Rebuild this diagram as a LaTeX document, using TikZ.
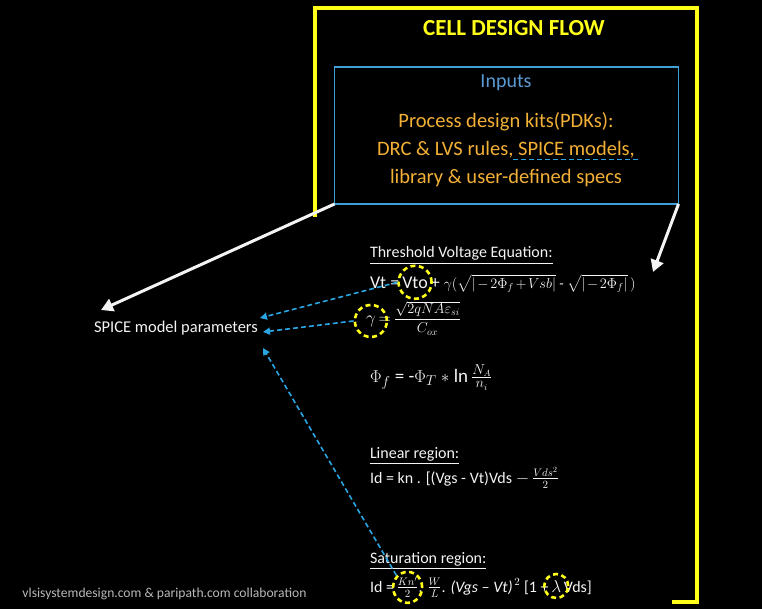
\documentclass[tikz,border=0pt]{standalone}
\usepackage{amsmath}
\usepackage{fontspec}
\setmainfont{Carlito}
\usetikzlibrary{arrows.meta,shapes.geometric}
\definecolor{frameyellow}{HTML}{FFFF1A}
\definecolor{boxblue}{HTML}{3FA0D8}
\definecolor{inputsblue}{HTML}{5B9BD5}
\definecolor{pdkorange}{HTML}{F2B036}
\definecolor{dashblue}{HTML}{2AA5E2}
\definecolor{txtwhite}{HTML}{F4F4F4}
\definecolor{footgray}{HTML}{B8B8B8}
\newcommand{\fs}[1]{\fontsize{#1}{#1}\selectfont}
\medmuskip=2mu plus 1mu minus 1mu
\thickmuskip=3mu plus 1mu
\tikzset{
  txt/.style={text=txtwhite, inner sep=0pt, outer sep=0pt},
  eqn/.style={txt, anchor=base west},
  ycirc/.style={draw=frameyellow, circle, line width=2.6pt, dash pattern=on 5pt off 3.5pt, inner sep=0pt},
  whitearrow/.style={draw=txtwhite, line width=3pt, -{Triangle[length=12pt,width=13pt]}},
  bluearrow/.style={draw=dashblue, line width=1.6pt, dash pattern=on 5pt off 3pt, -{Triangle[length=7pt,width=7pt]}}
}
\begin{document}
\begin{tikzpicture}[x=1pt,y=-1pt]
\fill[black] (0,0) rectangle (762,609);
\useasboundingbox (0,0) rectangle (762,609);
% yellow frame
\draw[frameyellow, line width=4pt] (315,217) -- (315,8) -- (697,8) -- (697,602) -- (672,602);
\node[text=frameyellow, font=\fs{23}\bfseries] (title) at (514,28) {CELL DESIGN FLOW};
% inputs box
\node[draw=boxblue, line width=1.5pt, minimum width=344pt, minimum height=137pt, inner sep=0pt, outer sep=0pt, anchor=north west] (inputs) at (334.5,67) {};
\node[text=inputsblue, font=\fs{20}] (inlabel) at (506,83) {Inputs};
\node[text=pdkorange, font=\fontsize{20.5}{28}\selectfont, align=center] (pdk) at (506,150) {Process design kits(PDKs):\\DRC \& LVS rules, SPICE models,\\library \& user-defined specs};
\draw[dashblue, line width=1.6pt, dash pattern=on 5pt off 3pt] (513,159.5) -- (638,159.5);
% SPICE node
\node[txt, font=\fs{16.5}] (spice) at (176,328) {SPICE model parameters};
\coordinate (leftTip) at (101,310);
\coordinate (rightTip) at (653,272);
\draw[whitearrow] (inputs.south west) -- (leftTip);
\draw[whitearrow] (inputs.south east) -- (rightTip);
% threshold voltage
\node[eqn, font=\fs{16}] (thr) at (370,258) {\underline{Threshold Voltage Equation:}};
\node[eqn, font=\fs{18}] (v1) at (370,288) {Vt =\,};
\node[eqn, font=\fs{18}] (vto) at (v1.base east) {Vto};
\node[eqn, font=\fs{18}] (v2) at (vto.base east) {\,+ {\fs{14.5}$\gamma(\sqrt{|-2\Phi_f+Vsb|}$ - $\sqrt{|-2\Phi_f|}\,)$}};
\node[eqn, font=\fs{18}] (g0) at (366,323) {$\gamma$};
\node[eqn, font=\fs{18}] (g1) at (g0.base east) {\,$=$\,{\fs{14}$\dfrac{\sqrt{2qNA\varepsilon_{si}}}{C_{ox}}$}};
\node[eqn, font=\fs{19}] (phieq) at (370,382) {$\Phi_f$ = -$\Phi_T$ $*$ $\ln\frac{N_A}{n_i}$};
% linear region
\node[eqn, font=\fs{16}] (lin) at (370,458) {\underline{Linear region:}};
\node[eqn, font=\fs{16}] (lineq) at (370,483) {Id = kn . [(Vgs - Vt)Vds $-\,\frac{Vds^2}{2}$};
% saturation region
\node[eqn, font=\fs{16}] (sat) at (370,563) {\underline{Saturation region:}};
\node[eqn, font=\fs{16}] (s1) at (370,592) {Id =\,};
\node[eqn, font=\fs{16}] (knf) at (s1.base east) {$\frac{Kn'}{2}$};
\node[eqn, font=\fs{16}] (s2) at (knf.base east) {. $\frac{W}{L}$. \textit{(Vgs -- Vt)}$^{\,2}$ [1 +\,};
\node[eqn, font=\fs{16}] (lam) at (s2.base east) {$\lambda$};
\node[eqn, font=\fs{16}] (s3) at (lam.base east) {\,Vds]};
% yellow dashed circles
\node[ycirc, minimum size=33pt] (vtoC) at (vto) {};
\node[ycirc, minimum size=32pt] (gamC) at (g0) {};
\node[ycirc, ellipse, minimum width=29pt, minimum height=31pt] (knC) at (knf) {};
\node[ycirc, minimum size=24pt] (lamC) at (lam) {};
% blue dashed arrows
\coordinate (t1) at (260,318);
\coordinate (t2) at (263,332);
\coordinate (t3) at (263,348);
\draw[bluearrow] (vtoC.west) -- (t1);
\draw[bluearrow] (gamC.west) -- (t2);
\draw[bluearrow] (knC.north west) -- (t3);
% footer
\node[text=footgray, font=\fs{13.6}, inner sep=0pt] (foot) at (164.5,594) {vlsisystemdesign.com \& paripath.com collaboration};
\end{tikzpicture}
\end{document}
